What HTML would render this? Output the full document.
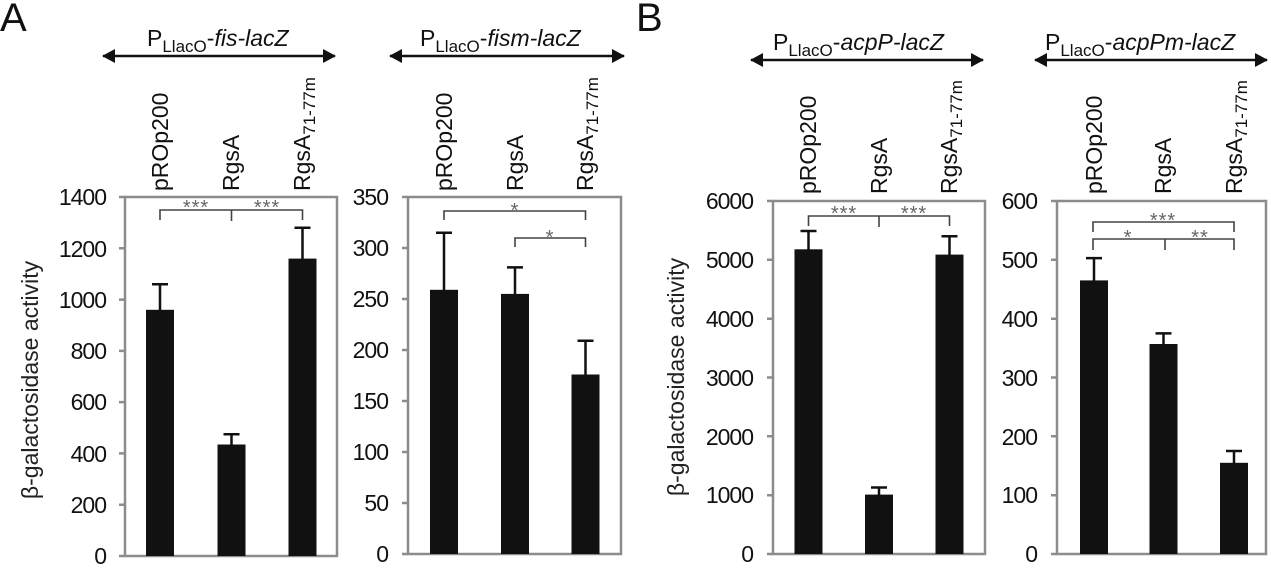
<!DOCTYPE html>
<html><head><meta charset="utf-8"><style>
html,body{margin:0;padding:0;background:#fff;}
svg{display:block;font-family:"Liberation Sans",Arial,sans-serif;}
.ax{stroke:#8c8c8c;stroke-width:2.5;fill:none;}
.tk{font-size:23px;fill:#111;text-anchor:end;letter-spacing:-1px;}
.bar{fill:#111;}
.er{stroke:#111;stroke-width:2.5;fill:none;}
.br{stroke:#444;stroke-width:1.6;fill:none;}
.st{font-size:20px;fill:#666;text-anchor:middle;letter-spacing:1px;}
.rl{font-size:23px;fill:#111;}
.hd{font-size:23px;fill:#111;}
.yt{font-size:23px;fill:#222;text-anchor:middle;}
</style></head><body>
<svg width="1271" height="571" viewBox="0 0 1271 571">
<defs>
<marker id="ah" markerWidth="14" markerHeight="14" refX="12" refY="7" orient="auto-start-reverse" markerUnits="userSpaceOnUse">
<path d="M0,0 L13,7 L0,14 Z" fill="#111"/></marker>
</defs>
<text x="0" y="31" font-size="40" fill="#111">A</text>
<text x="636" y="31" font-size="40" fill="#111">B</text>

<text class="hd" x="147" y="46">P<tspan font-size="17" dy="6">LlacO</tspan><tspan dy="-6">-</tspan><tspan font-style="italic">fis-lacZ</tspan></text>
<line x1="103" y1="56" x2="335" y2="56" stroke="#111" stroke-width="2.5" marker-start="url(#ah)" marker-end="url(#ah)"/>
<text class="hd" x="420" y="46">P<tspan font-size="17" dy="6">LlacO</tspan><tspan dy="-6">-</tspan><tspan font-style="italic">fism-lacZ</tspan></text>
<line x1="390" y1="56" x2="624" y2="56" stroke="#111" stroke-width="2.5" marker-start="url(#ah)" marker-end="url(#ah)"/>
<text class="hd" x="773" y="50">P<tspan font-size="17" dy="6">LlacO</tspan><tspan dy="-6">-</tspan><tspan font-style="italic">acpP-lacZ</tspan></text>
<line x1="751" y1="60" x2="983" y2="60" stroke="#111" stroke-width="2.5" marker-start="url(#ah)" marker-end="url(#ah)"/>
<text class="hd" x="1045" y="50">P<tspan font-size="17" dy="6">LlacO</tspan><tspan dy="-6">-</tspan><tspan font-style="italic">acpPm-lacZ</tspan></text>
<line x1="1035" y1="60" x2="1267" y2="60" stroke="#111" stroke-width="2.5" marker-start="url(#ah)" marker-end="url(#ah)"/>

<g class="rl">
<text transform="translate(168,191) rotate(-90)">pROp200</text>
<text transform="translate(239,191) rotate(-90)">RgsA</text>
<text transform="translate(310,191) rotate(-90)">RgsA<tspan font-size="17" dy="5">71-77m</tspan></text>
<text transform="translate(452,191) rotate(-90)">pROp200</text>
<text transform="translate(523,191) rotate(-90)">RgsA</text>
<text transform="translate(593,191) rotate(-90)">RgsA<tspan font-size="17" dy="5">71-77m</tspan></text>
<text transform="translate(816,194) rotate(-90)">pROp200</text>
<text transform="translate(887,194) rotate(-90)">RgsA</text>
<text transform="translate(957,194) rotate(-90)">RgsA<tspan font-size="17" dy="5">71-77m</tspan></text>
<text transform="translate(1102,194) rotate(-90)">pROp200</text>
<text transform="translate(1171,194) rotate(-90)">RgsA</text>
<text transform="translate(1242,194) rotate(-90)">RgsA<tspan font-size="17" dy="5">71-77m</tspan></text>
</g>

<text class="yt" transform="translate(38,380) rotate(-90)">β-galactosidase activity</text>
<text class="yt" transform="translate(684,377) rotate(-90)">β-galactosidase activity</text>

<!-- Panel 1 -->
<rect class="ax" x="125" y="197" width="212" height="359"/>
<g class="ax"><path d="M119 556H125M119 504.7H125M119 453.4H125M119 402.1H125M119 350.9H125M119 299.6H125M119 248.3H125M119 197H125"/></g>
<g class="tk">
<text x="106" y="564">0</text><text x="106" y="513">200</text><text x="106" y="462">400</text><text x="106" y="410">600</text><text x="106" y="359">800</text><text x="106" y="308">1000</text><text x="106" y="257">1200</text><text x="106" y="205">1400</text>
</g>
<rect class="bar" x="146" y="309.8" width="28" height="246.2"/>
<rect class="bar" x="217.5" y="444.5" width="28" height="111.5"/>
<rect class="bar" x="288.5" y="258.6" width="28" height="297.4"/>
<path class="er" d="M160 335.5V284.2M152 284.2H168M152 335.5H168 M231.5 454.7V434.2M223.5 434.2H239.5M223.5 454.7H239.5 M302.5 289.3V227.8M294.5 227.8H310.5M294.5 289.3H310.5"/>
<path class="br" d="M160 220V210H302.5V220M231.5 210V221"/>
<text class="st" x="196" y="214">***</text><text class="st" x="267" y="214">***</text>

<!-- Panel 2 -->
<rect class="ax" x="408" y="197" width="213" height="357"/>
<g class="ax"><path d="M402 554H408M402 503H408M402 452H408M402 401H408M402 350H408M402 299H408M402 248H408M402 197H408"/></g>
<g class="tk">
<text x="388" y="562">0</text><text x="388" y="511">50</text><text x="388" y="460">100</text><text x="388" y="409">150</text><text x="388" y="358">200</text><text x="388" y="307">250</text><text x="388" y="256">300</text><text x="388" y="205">350</text>
</g>
<rect class="bar" x="430" y="289.8" width="28" height="264.2"/>
<rect class="bar" x="501" y="293.9" width="28" height="260.1"/>
<rect class="bar" x="571.5" y="374.5" width="28" height="179.5"/>
<path class="er" d="M444 344.9V232.7M436 232.7H452M436 344.9H452 M515 319.4V267.4M507 267.4H523M507 319.4H523 M585.5 406.1V340.8M577.5 340.8H593.5M577.5 406.1H593.5"/>
<path class="br" d="M444 220V211H585.5V220 M515 247V238H585.5V247"/>
<text class="st" x="515" y="217">*</text><text class="st" x="550" y="244">*</text>

<!-- Panel 3 -->
<rect class="ax" x="773" y="201" width="212" height="353"/>
<g class="ax"><path d="M767 554H773M767 495.2H773M767 436.3H773M767 377.5H773M767 318.7H773M767 259.8H773M767 201H773"/></g>
<g class="tk">
<text x="753" y="562">0</text><text x="753" y="503">1000</text><text x="753" y="445">2000</text><text x="753" y="386">3000</text><text x="753" y="327">4000</text><text x="753" y="268">5000</text><text x="753" y="209">6000</text>
</g>
<rect class="bar" x="794.5" y="249.3" width="28" height="304.7"/>
<rect class="bar" x="865" y="494.6" width="28" height="59.4"/>
<rect class="bar" x="935.5" y="254.6" width="28" height="299.4"/>
<path class="er" d="M808.5 267.5V231M800.5 231H816.5M800.5 267.5H816.5 M879 501.1V487.5M871 487.5H887M871 501.1H887 M949.5 272.8V236.3M941.5 236.3H957.5M941.5 272.8H957.5"/>
<path class="br" d="M808.5 226V216H949.5V226M879 216V227"/>
<text class="st" x="844" y="220">***</text><text class="st" x="914" y="220">***</text>

<!-- Panel 4 -->
<rect class="ax" x="1057" y="201" width="209" height="353"/>
<g class="ax"><path d="M1051 554H1057M1051 495.2H1057M1051 436.3H1057M1051 377.5H1057M1051 318.7H1057M1051 259.8H1057M1051 201H1057"/></g>
<g class="tk">
<text x="1037" y="562">0</text><text x="1037" y="503">100</text><text x="1037" y="445">200</text><text x="1037" y="386">300</text><text x="1037" y="327">400</text><text x="1037" y="268">500</text><text x="1037" y="209">600</text>
</g>
<rect class="bar" x="1080" y="280.4" width="28" height="273.6"/>
<rect class="bar" x="1149.5" y="344" width="28" height="210"/>
<rect class="bar" x="1220" y="462.8" width="28" height="91.2"/>
<path class="er" d="M1094 301V258.1M1086 258.1H1102M1086 301H1102 M1163.5 355.2V333.4M1155.5 333.4H1171.5M1155.5 355.2H1171.5 M1234 474V451M1226 451H1242M1226 474H1242"/>
<path class="br" d="M1093 232V222H1234V232 M1093 250V239H1234V250M1165 239V250"/>
<text class="st" x="1163" y="227">***</text><text class="st" x="1128" y="244">*</text><text class="st" x="1200" y="244">**</text>
</svg>
</body></html>
